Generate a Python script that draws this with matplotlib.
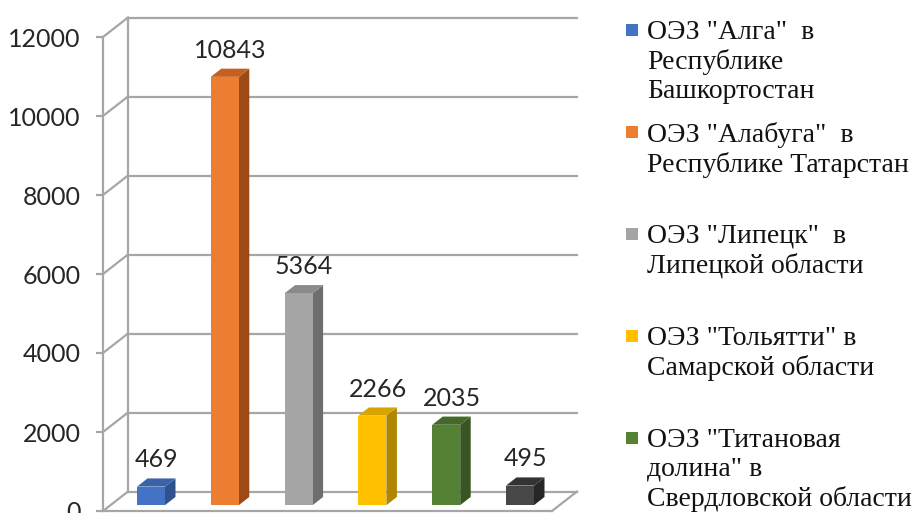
import matplotlib
matplotlib.use("Agg")
import matplotlib.pyplot as plt
from matplotlib.patches import Polygon, Rectangle

values = [469, 10843, 5364, 2266, 2035, 495]
front_colors = ['#4472C4', '#ED7D31', '#A5A5A5', '#FFC000', '#548235', '#474747']
side_colors = ['#2F528F', '#9C4A16', '#6E6E6E', '#B08600', '#375623', '#262626']
top_colors = ['#3A62A8', '#C5601E', '#8A8A8A', '#D9A300', '#44692B', '#333333']
legend_labels = [
    'ОЭЗ "Алга"  в\nРеспублике\nБашкортостан',
    'ОЭЗ "Алабуга"  в\nРеспублике Татарстан',
    'ОЭЗ "Липецк"  в\nЛипецкой области',
    'ОЭЗ "Тольятти" в\nСамарской области',
    'ОЭЗ "Титановая\nдолина" в\nСвердловской области',
]
yticks = [0, 2000, 4000, 6000, 8000, 10000, 12000]

W, H = 919, 513
fig = plt.figure(figsize=(W / 100, H / 100), dpi=100)

# pixel layout of the pseudo 3D box
px_step = 73.8          # pixels between bars
x0_px = 143.5           # pixel of category 0
front_px = 103          # front axis
y0_px, y12_px = 511, 37  # pixel rows of 0 and 12000 on front axis
ppv = (y0_px - y12_px) / 12000.0

ax = fig.add_axes([front_px / W, 0, 1 - front_px / W, 1])
xl = (front_px - x0_px) / px_step
ax.set_xlim(xl, (W - x0_px) / px_step)
ax.set_ylim(-(H - y0_px) / ppv, y0_px / ppv)

DX = 25 / px_step       # wall depth in x units
DY = 19.5 / ppv         # wall depth in value units
x_right = (552 - x0_px) / px_step

grid_c = '#A6A6A6'
# back wall gridlines + diagonals
for t in yticks:
    ax.plot([xl + DX, x_right + DX], [t + DY, t + DY], color=grid_c, lw=1.6, zorder=1)
    ax.plot([xl, xl + DX], [t, t + DY], color=grid_c, lw=1.6, zorder=1)
ax.plot([xl + DX, xl + DX], [DY, 12000 + DY], color=grid_c, lw=1.6, zorder=1)
# floor
ax.plot([xl, x_right], [0, 0], color=grid_c, lw=1.6, zorder=1)
ax.plot([x_right, x_right + DX], [0, DY], color=grid_c, lw=1.6, zorder=1)

# 3D bars
bw = 28 / px_step
d0, d1 = 0.3, 0.72
for i, v in enumerate(values):
    xa = i - bw / 2 + d0 * DX
    xb = xa + bw
    yb = d0 * DY
    sx, sy = (d1 - d0) * DX, (d1 - d0) * DY
    ax.add_patch(Polygon([(xb, yb), (xb + sx, yb + sy), (xb + sx, yb + sy + v), (xb, yb + v)],
                         closed=True, facecolor=side_colors[i], edgecolor='none', zorder=3))
    ax.add_patch(Polygon([(xa, yb + v), (xb, yb + v), (xb + sx, yb + v + sy), (xa + sx, yb + v + sy)],
                         closed=True, facecolor=top_colors[i], edgecolor='none', zorder=3))
    ax.add_patch(Rectangle((xa, yb), bw, v, facecolor=front_colors[i], edgecolor='none', zorder=4))
    ax.annotate(str(v), (xa + bw / 2 + sx / 2, yb + v + sy), xytext=(0, 5), textcoords='offset points',
                ha='center', va='bottom', fontsize=18, family='Lato', color='#262626', zorder=5)

for s in ['top', 'right', 'bottom']:
    ax.spines[s].set_visible(False)
ax.spines['left'].set_bounds(0, 12000)
ax.spines['left'].set_color(grid_c)
ax.spines['left'].set_linewidth(1.6)
ax.set_xticks([])
ax.set_yticks(yticks)
ax.set_yticklabels([str(t) for t in yticks], family='Lato', fontsize=18, color='#262626')
ax.tick_params(axis='y', length=5, width=1.6, color=grid_c, pad=11)
ax.patch.set_alpha(0)

# legend
entry_pitch = 102
for i, lab in enumerate(legend_labels):
    yc = 30 + i * entry_pitch
    fig.patches.append(Rectangle((626 / W, 1 - (yc + 6) / H), 12 / W, 12 / H,
                                 transform=fig.transFigure, facecolor=front_colors[i], edgecolor='none'))
    fig.text(647 / W, 1 - (yc - 10) / H, lab, ha='left', va='top', family='Liberation Serif',
             fontsize=20, linespacing=1.2, color='#111111')

fig.savefig('out.png', dpi=100)
